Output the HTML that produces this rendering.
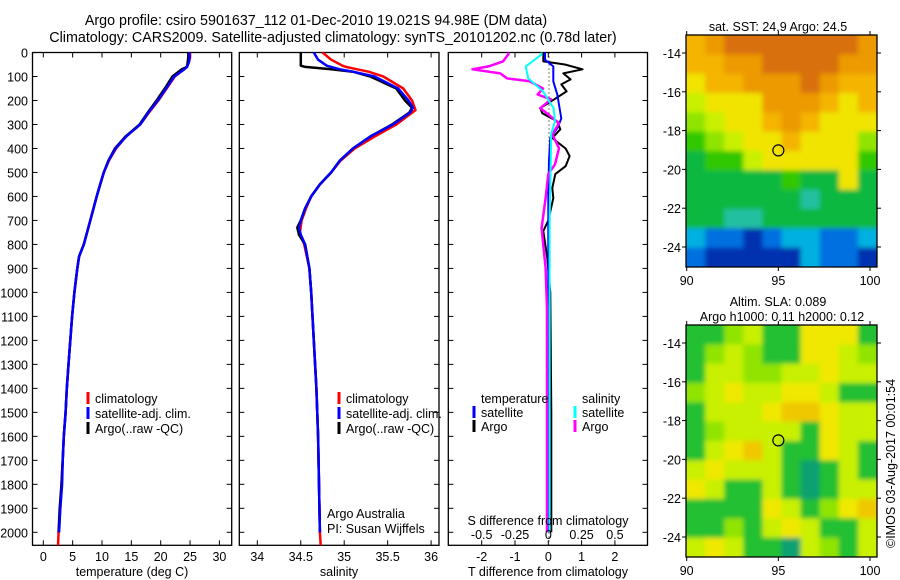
<!DOCTYPE html>
<html><head><meta charset="utf-8">
<style>
html,body{margin:0;padding:0;background:#fff;}
svg{display:block;font-family:"Liberation Sans",sans-serif;}
text{font-size:12.5px;fill:#000;}
</style></head>
<body>
<svg id="fig" width="900" height="580" viewBox="0 0 900 580">
<defs><filter id="blur" x="-5%" y="-5%" width="110%" height="110%"><feGaussianBlur stdDeviation="2.5"/></filter></defs>
<text x="316" y="25" text-anchor="middle" style="font-size:14.3px">Argo profile: csiro 5901637_112 01-Dec-2010 19.021S 94.98E (DM data)</text>
<text x="333" y="42" text-anchor="middle" style="font-size:14.3px">Climatology: CARS2009. Satellite-adjusted climatology: synTS_20101202.nc (0.78d later)</text>
<g id="g1"></g>
<g id="g2"></g>
<g id="g3"></g>
<g id="m1"></g>
<g id="m2"></g>
<text x="0" y="0" transform="translate(895,0) rotate(-90)" style="font-size:12.5px"><tspan x="-548">©IMOS 03-Aug-2017 00:01:54</tspan></text>
</svg>
<script>
// ---------- data ----------
const tDepth = [0,20,40,60,70,100,150,200,250,300,350,400,450,500,550,600,700,800,850,900,1000,1100,1200,1300,1400,1500,1600,1700,1800,1900,2000];
const tArgo  = [24.7,24.7,24.6,24.5,23.6,22.0,20.7,19.3,17.8,16.4,14.0,12.2,11.1,10.3,9.7,9.1,8.0,6.9,6.1,5.8,5.3,4.9,4.6,4.3,4.0,3.8,3.5,3.3,3.1,2.8,2.6];
const tSat   = [24.9,24.9,24.8,24.5,24.0,22.3,20.9,19.5,17.9,16.5,14.1,12.3,11.1,10.3,9.7,9.1,8.0,6.9,6.1,5.8,5.3,4.9,4.6,4.3,4.0,3.8,3.5,3.3,3.2,2.9,2.7];
const tClimDepth = [0,20,40,60,70,100,150,200,250,300,350,400,450,500,550,600,700,800,850,900,1000,1100,1200,1300,1400,1500,1600,1700,1800,1900,2000,2054];
const tClim  = [25.0,25.0,24.8,24.4,24.0,22.4,21.0,19.6,18.0,16.5,14.1,12.4,11.2,10.3,9.7,9.1,8.0,6.9,6.1,5.8,5.3,4.9,4.6,4.3,4.0,3.8,3.5,3.3,3.1,2.9,2.6,2.5];
const sDepth = [0,30,55,60,70,80,100,150,200,230,250,300,350,400,450,500,550,600,650,700,730,760,800,900,1000,1200,1400,1600,1800,2000];
const sArgo  = [34.50,34.50,34.50,34.55,34.85,35.10,35.30,35.60,35.70,35.78,35.75,35.55,35.30,35.10,34.95,34.85,34.72,34.62,34.55,34.50,34.46,34.48,34.55,34.60,34.62,34.65,34.68,34.70,34.71,34.72];
const sSat   = [34.65,34.70,34.80,34.85,34.95,35.10,35.35,35.62,35.74,35.79,35.76,35.56,35.30,35.10,34.95,34.85,34.72,34.62,34.55,34.50,34.48,34.50,34.55,34.60,34.62,34.65,34.68,34.70,34.71,34.72];
const sClimDepth = [0,30,55,60,70,80,100,150,200,240,300,350,400,450,500,550,600,650,700,750,800,900,1000,1200,1400,1600,1800,2000,2054];
const sClim  = [34.75,34.85,34.98,35.02,35.15,35.28,35.45,35.68,35.78,35.82,35.60,35.35,35.12,34.96,34.85,34.72,34.62,34.56,34.51,34.49,34.54,34.60,34.62,34.65,34.68,34.70,34.71,34.72,34.73];
const dDepth   = [0,37,50,70,87,112,133,162,195,232,253,287,320,357,400,432,474,507,565,607,700,744,856,1000,1500,2000];
const dTArgo   = [-0.15,-0.15,0.5,1.03,0.45,0.67,0.39,0.55,0.18,-0.24,-0.18,0.27,0.36,0.12,0.52,0.64,0.52,0.21,0.12,0.15,0.0,-0.15,-0.03,0.06,0.09,0.09];
const dsDepth  = [0,8,37,58,70,87,108,120,150,175,195,232,258,295,341,399,466,507,607,732,898,1064,2000];
const dSArgo   = [-0.30,-0.30,-0.34,-0.45,-0.57,-0.36,-0.31,-0.14,-0.04,-0.08,0.02,-0.06,0.0,0.08,0.03,0.08,0.05,0.0,-0.02,-0.05,-0.02,-0.01,-0.01];
const dtsDepth = [0,30,58,120,175,275,315,357,450,600,1000,2000];
const dTSat    = [-0.1,-0.1,0.15,0.15,0.27,0.39,0.27,0.06,0.02,0.0,0.0,0.0];
const dssDepth = [0,8,58,108,162,232,287,341,400,700,1000,2000];
const dSSat    = [-0.05,-0.05,-0.17,-0.15,-0.04,0.04,0.05,0.02,0.02,0.01,0.01,0.01];
const depthTicks = [0,100,200,300,400,500,600,700,800,900,1000,1100,1200,1300,1400,1500,1600,1700,1800,1900,2000];
const tTicks = [0,5,10,15,20,25,30];
const sTicks = ["34","34.5","35","35.5","36"];
const dTicks = [-2,-1,0,1,2];
const dSLabels = ["-0.5","-0.25","0","0.25","0.5"];
const sstGrid = [
"PODDDDDDDO","PPOODDDDOO","YPPOOODOPP","LYYYOOOPYP","lLYYPOPYYY","glLYYPYYYl",
"GggLYYYYYg","GGGGGgGGYG","GGGGGGTGGG","GGTTGGGGGG","CBBNBCCBBC","BNNNNNCBBN"];
const slaGrid = [
"gglyggYYYg","glylggYYyl","gyyllyyYyy","lyYyyYYygg","gyyyYooYyy","glyyyygYyy",
"gyYoyggYyg","yYyyygtgyg","Yyggygtgyy","ggggYyglYo","gglgyYyggy","yYyggtylgy"];

// ---------- helpers ----------
const NS="http://www.w3.org/2000/svg";
function mk(parent,tag,attrs){const e=document.createElementNS(NS,tag);for(const k in attrs)e.setAttribute(k,attrs[k]);parent.appendChild(e);return e;}
const Y0=52.5, Y1=545.3;
const yD = d => Y0 + d*(532.3-Y0)/2000;
const xT = v => 43.3 + v*5.87;
const xS = v => 257.3 + (v-34)*86.9;
const xDT = v => 548.3 + v*33.3;
const xDS = v => 548.3 + v*133.2;

function frame(g,x0,x1,name){
  const r=mk(g,'rect',{x:x0,y:Y0,width:x1-x0,height:Y1-Y0,fill:'none',stroke:'#000','stroke-width':1.3});
  
  depthTicks.forEach(d=>{
    mk(g,'line',{x1:x0,x2:x0+5,y1:yD(d),y2:yD(d),stroke:'#000'});
    mk(g,'line',{x1:x1-5,x2:x1,y1:yD(d),y2:yD(d),stroke:'#000'});
  });
}
function xticks(g,xs,labels,fn){
  xs.forEach((v,i)=>{
    const x=fn(v);
    mk(g,'line',{x1:x,x2:x,y1:Y1,y2:Y1-5,stroke:'#000'});
    mk(g,'line',{x1:x,x2:x,y1:Y0,y2:Y0+5,stroke:'#000'});
    const t=mk(g,'text',{x:x,y:561,'text-anchor':'middle'});t.textContent=labels[i];
    
  });
}
function line(g,xs,ds,fx,color,w,name){
  const pts=xs.map((v,i)=>fx(v).toFixed(1)+','+yD(ds[i]).toFixed(1)).join(' ');
  const p=mk(g,'polyline',{points:pts,fill:'none',stroke:color,'stroke-width':w,'stroke-linejoin':'round'});
  
}
function txt(g,x,y,s,name,anchor){const t=mk(g,'text',{x:x,y:y,'text-anchor':anchor||'start'});t.textContent=s;
  return t;}
function legend(g,x,y,color,label){
  mk(g,'line',{x1:x,x2:x,y1:y-11,y2:y+1,stroke:color,'stroke-width':3});
  txt(g,x+7,y,label,'legend-entry');
}

// ---------- panel 1 ----------
const g1=document.getElementById('g1');
frame(g1,32.5,231.7,'temperature');
depthTicks.forEach(d=>txt(g1,28,yD(d)+5,String(d),'y-tick-label','end'));
xticks(g1,tTicks,tTicks.map(String),xT);
txt(g1,132,576,'temperature (deg C)','x-axis-title','middle');
line(g1,tClim,tClimDepth,xT,'#ff0000',2.5,'temp-climatology-line');
line(g1,tArgo,tDepth,xT,'#000',2.5,'temp-argo-line');
line(g1,tSat,tDepth,xT,'#0000ff',2.5,'temp-satellite-line');
legend(g1,88,403,'#ff0000','climatology');
legend(g1,88,418,'#0000ff','satellite-adj. clim.');
legend(g1,88,433,'#000','Argo(..raw -QC)');

// ---------- panel 2 ----------
const g2=document.getElementById('g2');
frame(g2,239.3,439,'salinity');
xticks(g2,sTicks.map(Number),sTicks,xS);
txt(g2,339,576,'salinity','x-axis-title','middle');
line(g2,sClim,sClimDepth,xS,'#ff0000',2.5,'sal-climatology-line');
line(g2,sArgo,sDepth,xS,'#000',2.5,'sal-argo-line');
line(g2,sSat,sDepth,xS,'#0000ff',2.5,'sal-satellite-line');
legend(g2,339,403,'#ff0000','climatology');
legend(g2,339,418,'#0000ff','satellite-adj. clim.');
legend(g2,339,433,'#000','Argo(..raw -QC)');
txt(g2,327,518,'Argo Australia','argo-australia-label');
txt(g2,327,533,'PI: Susan Wijffels','pi-label');

// ---------- panel 3 ----------
const g3=document.getElementById('g3');
frame(g3,448.3,647.5,'difference');
xticks(g3,dTicks,dTicks.map(String),xDT);
txt(g3,548,576,'T difference from climatology','x-axis-title','middle');
mk(g3,'line',{x1:549,x2:549,y1:Y0,y2:Y1,stroke:'#000','stroke-dasharray':'1,3'});
line(g3,dTArgo,dDepth,xDT,'#000',2,'tdiff-argo-line');
line(g3,dTSat,dtsDepth,xDT,'#0000ff',2,'tdiff-satellite-line');
line(g3,dSArgo,dsDepth,xDS,'#ff00ff',2.5,'sdiff-argo-line');
line(g3,dSSat,dssDepth,xDS,'#00ffff',2,'sdiff-satellite-line');
txt(g3,481,403,'temperature','legend-title');
legend(g3,474,417,'#0000ff','satellite');
legend(g3,474,431,'#000','Argo');
txt(g3,582,403,'salinity','legend-title');
legend(g3,575,417,'#00ffff','satellite');
legend(g3,575,431,'#ff00ff','Argo');
txt(g3,548,525,'S difference from climatology','s-axis-title','middle');
dSLabels.forEach((s,i)=>txt(g3,xDT(dTicks[i]),539,s,'s-tick-label','middle'));

// ---------- maps ----------
const sstCol={O:'#ec9a00',D:'#d8700a',P:'#f4b400',Y:'#f0e400',L:'#c8f000',l:'#90e400',g:'#30c800',G:'#10b840',T:'#20c0a0',C:'#00b0e0',B:'#0070e0',N:'#0030b0'};
const slaCol={g:'#20c030',l:'#90e400',y:'#c8f000',Y:'#f0e800',o:'#f0c800',t:'#10a070'};
function map(id,grid,cols,top,titleLines){
  const g=document.getElementById(id);
  const X0=686,X1=877,T=top,B=top+232;
  const lonX=v=>686.7+(v-90)*18.33;
  const latY=v=>top+18+(-14-v)*19.4;
  const clipId='c'+id;
  const cp=mk(g,'clipPath',{id:clipId});mk(cp,'rect',{x:X0,y:T,width:X1-X0,height:B-T});
  const outer=mk(g,'g',{'clip-path':'url(#'+clipId+')'});
  const cg=mk(outer,'g',{filter:'url(#blur)'});
  const cw=(X1-X0)/10,ch=(B-T)/12;
  grid.forEach((row,r)=>{
    row.split('').slice(0,10).forEach((c,k)=>{
      const x=X0+k*cw-(k===0?8:0), y=T+r*ch-(r===0?8:0);
      const w=cw+(k===0?8:0)+(k===9?8:0)+0.6, h=ch+(r===0?8:0)+(r===11?8:0)+0.6;
      const cell=mk(cg,'rect',{x:x,y:y,width:w,height:h,fill:cols[c]||'#c8f000'});
      
    });
  });
  mk(g,'rect',{x:X0,y:T,width:X1-X0,height:B-T,fill:'none',stroke:'#000','stroke-width':1.3});
  [90,95,100].forEach(v=>{const x=lonX(v);mk(g,'line',{x1:x,x2:x,y1:T-4,y2:T,stroke:'#000'});mk(g,'line',{x1:x,x2:x,y1:B,y2:B+4,stroke:'#000'});
    txt(g,x,B+18,String(v),'lon-tick-label','middle');});
  [-14,-16,-18,-20,-22,-24].forEach(v=>{const y=latY(v);mk(g,'line',{x1:X0-4,x2:X0,y1:y,y2:y,stroke:'#000'});mk(g,'line',{x1:X1,x2:X1+4,y1:y,y2:y,stroke:'#000'});
    txt(g,X0-5,y+5,String(v),'lat-tick-label','end');});
  const c=mk(g,'circle',{cx:lonX(95),cy:latY(-19.02),r:5.5,fill:'none',stroke:'#000','stroke-width':1.2});
  
  titleLines.forEach((s,i)=>txt(g,[778,782][i],T-(titleLines.length-i)*15+11,s,'map-title','middle'));
}
map('m1',sstGrid,sstCol,35,['sat. SST: 24.9 Argo: 24.5']);
map('m2',slaGrid,slaCol,325,['Altim. SLA: 0.089','Argo h1000: 0.11 h2000: 0.12']);
</script>
</body></html>
